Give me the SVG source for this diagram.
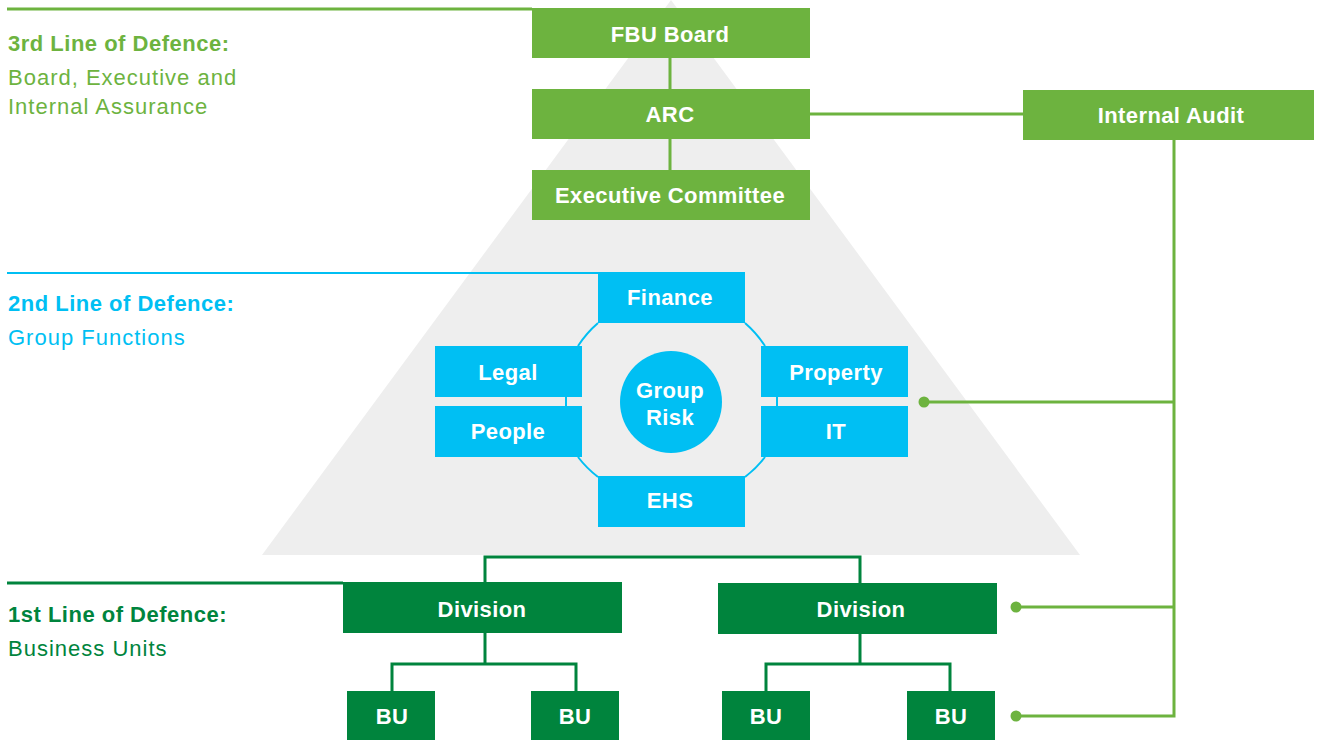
<svg xmlns="http://www.w3.org/2000/svg" width="1317" height="740" viewBox="0 0 1317 740">
<style>
.lg{fill:#6db33f}.bl{fill:#00bff3}.dg{fill:#00843d}
.nt{font-family:"Liberation Sans",Arial,sans-serif;font-weight:bold;font-size:22px;letter-spacing:0.4px;fill:#fff;text-anchor:middle}
.h{font-family:"Liberation Sans",Arial,sans-serif;font-weight:bold;font-size:22px;letter-spacing:0.5px}
.s{font-family:"Liberation Sans",Arial,sans-serif;font-size:22px;letter-spacing:1px}
.cg{stroke:#6db33f;stroke-width:3;fill:none}
.cb{stroke:#00bff3;stroke-width:2;fill:none}
.cd{stroke:#00843d;stroke-width:3;fill:none}
</style>
<rect width="1317" height="740" fill="#fff"/>
<polygon points="671,0 262,555 1080,555" fill="#eeeeee"/>
<g id="labels">
<text class="h" x="8" y="51" fill="#6db33f">3rd Line of Defence:</text>
<text class="s" x="8" y="85" fill="#6db33f">Board, Executive and</text>
<text class="s" x="8" y="114" fill="#6db33f">Internal Assurance</text>
<text class="h" x="8" y="311" fill="#00bff3">2nd Line of Defence:</text>
<text class="s" x="8" y="345" fill="#00bff3">Group Functions</text>
<text class="h" x="8" y="622" fill="#00843d">1st Line of Defence:</text>
<text class="s" x="8" y="656" fill="#00843d">Business Units</text>
</g>
<g id="connectors">
<line class="cg" x1="7" y1="9" x2="532" y2="9"/>
<line class="cg" x1="670" y1="58" x2="670" y2="89"/>
<line class="cg" x1="670" y1="139" x2="670" y2="170"/>
<line class="cg" x1="810" y1="114" x2="1023" y2="114"/>
<polyline class="cg" points="1174,140 1174,716 1016,716"/>
<line class="cg" x1="1174" y1="402" x2="924" y2="402"/>
<line class="cg" x1="1174" y1="607" x2="1016" y2="607"/>
<circle cx="924" cy="402" r="5.5" fill="#6db33f"/>
<circle cx="1016" cy="607" r="5.5" fill="#6db33f"/>
<circle cx="1016" cy="716" r="5.5" fill="#6db33f"/>
<line class="cb" x1="7" y1="273" x2="598" y2="273"/>
<path class="cb" d="M598,323 A108,108 0 0 0 578,346"/>
<path class="cb" d="M745,323 A108,108 0 0 1 765,346"/>
<path class="cb" d="M598,477 A108,108 0 0 1 578,457"/>
<path class="cb" d="M745,477 A108,108 0 0 0 765,457"/>
<line class="cb" x1="566" y1="397" x2="566" y2="406"/>
<line class="cb" x1="777" y1="397" x2="777" y2="406"/>
<line class="cd" x1="7" y1="583" x2="343" y2="583"/>
<polyline class="cd" points="485,582 485,557 860,557 860,583"/>
<polyline class="cd" points="392,691 392,664 576,664 576,691"/>
<line class="cd" x1="485" y1="633" x2="485" y2="664"/>
<polyline class="cd" points="766,691 766,664 950,664 950,691"/>
<line class="cd" x1="860" y1="633" x2="860" y2="664"/>
</g>
<g id="fbu-board"><rect class="lg" x="532" y="8" width="278" height="50"/><text class="nt" x="670" y="42">FBU Board</text></g>
<g id="arc"><rect class="lg" x="532" y="89" width="278" height="50"/><text class="nt" x="670" y="122">ARC</text></g>
<g id="exec"><rect class="lg" x="532" y="170" width="278" height="50"/><text class="nt" x="670" y="203">Executive Committee</text></g>
<g id="internal-audit"><rect class="lg" x="1023" y="90" width="291" height="50"/><text class="nt" x="1171" y="123">Internal Audit</text></g>
<g id="finance"><rect class="bl" x="598" y="272" width="147" height="51"/><text class="nt" x="670" y="305">Finance</text></g>
<g id="legal"><rect class="bl" x="435" y="346" width="147" height="51"/><text class="nt" x="508" y="380">Legal</text></g>
<g id="people"><rect class="bl" x="435" y="406" width="147" height="51"/><text class="nt" x="508" y="439">People</text></g>
<g id="property"><rect class="bl" x="761" y="346" width="147" height="51"/><text class="nt" x="836" y="380">Property</text></g>
<g id="it"><rect class="bl" x="761" y="406" width="147" height="51"/><text class="nt" x="836" y="439">IT</text></g>
<g id="ehs"><rect class="bl" x="598" y="476" width="147" height="51"/><text class="nt" x="670" y="508">EHS</text></g>
<g id="group-risk"><circle class="bl" cx="671" cy="402" r="51"/><text class="nt" x="670" y="398">Group</text><text class="nt" x="670" y="425">Risk</text></g>
<g id="division-1"><rect class="dg" x="343" y="582" width="279" height="51"/><text class="nt" x="482" y="617">Division</text></g>
<g id="division-2"><rect class="dg" x="718" y="583" width="279" height="51"/><text class="nt" x="861" y="617">Division</text></g>
<g id="bu-1"><rect class="dg" x="347" y="691" width="88" height="49"/><text class="nt" x="392" y="724">BU</text></g>
<g id="bu-2"><rect class="dg" x="531" y="691" width="88" height="49"/><text class="nt" x="575" y="724">BU</text></g>
<g id="bu-3"><rect class="dg" x="722" y="691" width="88" height="49"/><text class="nt" x="766" y="724">BU</text></g>
<g id="bu-4"><rect class="dg" x="907" y="691" width="88" height="49"/><text class="nt" x="951" y="724">BU</text></g>
</svg>
